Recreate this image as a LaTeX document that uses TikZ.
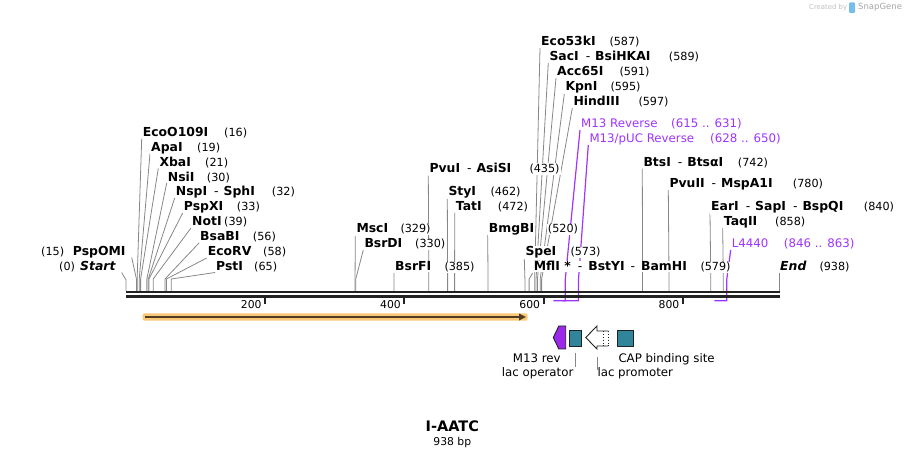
\documentclass[tikz,border=0pt]{standalone}
\usepackage{fontspec}
\setmainfont{DejaVu Sans}
\usetikzlibrary{calc,backgrounds,arrows.meta}

\definecolor{leadgray}{RGB}{135,135,135}
\definecolor{primer}{RGB}{158,52,255}
\definecolor{featteal}{RGB}{49,133,155}
\definecolor{revpurple}{RGB}{155,40,235}
\definecolor{bone}{RGB}{34,34,34}
\definecolor{orfback}{RGB}{250,200,120}
\definecolor{orfline}{RGB}{80,60,35}
\definecolor{logoblue}{RGB}{120,190,235}

\tikzset{
  enz/.style={anchor=base west, inner sep=1pt, fill=white, font=\fontsize{12.4}{14}\selectfont\bfseries},
  num/.style={anchor=base west, inner sep=1pt, fill=white, font=\fontsize{11.2}{13}\selectfont},
  prim/.style={anchor=base west, inner sep=1pt, fill=white, text=primer, font=\fontsize{11.8}{14}\selectfont},
  lead/.style={draw=leadgray, line width=0.8pt},
  plead/.style={draw=primer, line width=1.2pt},
  feat/.style={draw=bone, line width=0.9pt},
  flabel/.style={anchor=base west, inner sep=0pt, font=\fontsize{11.8}{14}\selectfont},
  ticklab/.style={anchor=base east, inner sep=0pt, font=\fontsize{10.8}{13}\selectfont},
}
\newcommand{\esep}{\hspace{7pt}{\mdseries -}\hspace{5pt}}

\begin{document}
\begin{tikzpicture}[x=1pt,y=-1pt]
  \useasboundingbox (0,0) rectangle (906,457);
  \def\bp{0.6962}

  % credit line
  \node[anchor=base west, inner sep=0, text=black!25, font=\fontsize{6.9}{8}\selectfont] (credit) at (809,10) {Created by};
  \fill[logoblue, rounded corners=1pt] (849,2.5) rectangle (855,13);
  \node[anchor=base west, inner sep=0, text=black!35, font=\fontsize{8.5}{10}\selectfont] (snapgene) at (858,10) {SnapGene};

  % enzymes, left group
  \node[enz] (ecoo) at (141.7,136.7) {EcoO109I};
  \node[num] (ecoo-n) at (223,136.7) {(16)};
  \node[enz] (apa) at (150,151.5) {ApaI};
  \node[num] (apa-n) at (196,151.5) {(19)};
  \node[enz] (xba) at (158.3,166.3) {XbaI};
  \node[num] (xba-n) at (204,166.3) {(21)};
  \node[enz] (nsi) at (166.7,181.1) {NsiI};
  \node[num] (nsi-n) at (205.7,181.1) {(30)};
  \node[enz] (nsp) at (174.7,196) {NspI\esep SphI};
  \node[num] (nsp-n) at (270.7,196) {(32)};
  \node[enz] (pspx) at (182.7,211) {PspXI};
  \node[num] (pspx-n) at (235.7,211) {(33)};
  \node[enz] (not) at (191,226) {NotI};
  \node[num] (not-n) at (223,226) {(39)};
  \node[enz] (bsab) at (199,241) {BsaBI};
  \node[num] (bsab-n) at (251.7,241) {(56)};
  \node[enz] (ecorv) at (206.7,256) {EcoRV};
  \node[num] (ecorv-n) at (262,256) {(58)};
  \node[enz] (pst) at (215,270.5) {PstI};
  \node[num] (pst-n) at (253,270.5) {(65)};
  \node[num] (pspomi-n) at (40,255.5) {(15)};
  \node[enz] (pspomi) at (71.7,255.5) {PspOMI};
  \node[num] (start-n) at (58,270.5) {(0)};
  \node[enz] (start) at (79,270.5) {\itshape Start};

  % enzymes, middle group
  \node[enz] (msc) at (355.3,233) {MscI};
  \node[num] (msc-n) at (399.3,233) {(329)};
  \node[enz] (bsrd) at (363.3,248) {BsrDI};
  \node[num] (bsrd-n) at (414,248) {(330)};
  \node[enz] (bsrf) at (394,271) {BsrFI};
  \node[num] (bsrf-n) at (443.3,271) {(385)};
  \node[enz] (pvu) at (428.3,172.7) {PvuI\esep AsiSI};
  \node[num] (pvu-n) at (528.3,172.7) {(435)};
  \node[enz] (sty) at (447.3,196) {StyI};
  \node[num] (sty-n) at (489.3,196) {(462)};
  \node[enz] (tat) at (454.7,211) {TatI};
  \node[num] (tat-n) at (496.7,211) {(472)};
  \node[enz] (bmgb) at (487.7,233) {BmgBI};
  \node[num] (bmgb-n) at (546.7,233) {(520)};
  \node[enz] (spe) at (524.3,256) {SpeI};
  \node[num] (spe-n) at (569.3,256) {(573)};
  \node[enz] (mfl) at (532.7,271) {MflI *\hspace{7pt}{\mdseries -}\hspace{6pt}BstYI\hspace{6pt}{\mdseries -}\hspace{6pt}BamHI};
  \node[num] (mfl-n) at (699.3,271) {(579)};

  % enzymes, top group
  \node[enz] (eco53) at (540,46) {Eco53kI};
  \node[num] (eco53-n) at (608.3,46) {(587)};
  \node[enz] (sac) at (548.3,61) {SacI\esep BsiHKAI};
  \node[num] (sac-n) at (667.7,61) {(589)};
  \node[enz] (acc) at (556,76) {Acc65I};
  \node[num] (acc-n) at (618.3,76) {(591)};
  \node[enz] (kpn) at (564.3,91) {KpnI};
  \node[num] (kpn-n) at (609.3,91) {(595)};
  \node[enz] (hind) at (572.3,106) {HindIII};
  \node[num] (hind-n) at (637.3,106) {(597)};

  % enzymes, right group
  \node[enz] (bts) at (642.3,166.7) {BtsI\esep BtsαI};
  \node[num] (bts-n) at (736.7,166.7) {(742)};
  \node[enz] (pvuii) at (668.3,188) {PvuII\esep MspA1I};
  \node[num] (pvuii-n) at (791.7,188) {(780)};
  \node[enz] (ear) at (710,211) {EarI\esep SapI\esep BspQI};
  \node[num] (ear-n) at (862.7,211) {(840)};
  \node[enz] (taq) at (722.7,226) {TaqII};
  \node[num] (taq-n) at (774,226) {(858)};
  \node[enz] (end) at (779,271) {\itshape End};
  \node[num] (end-n) at (818.3,271) {(938)};

  % primers
  \node[prim] (m13r) at (580,128) {M13 Reverse};
  \node[prim] (m13r-n) at (670,128) {(615 .. 631)};
  \node[prim] (m13puc) at (588.3,143) {M13/pUC Reverse};
  \node[prim] (m13puc-n) at (709,143) {(628 .. 650)};
  \node[prim] (l4440) at (730.7,248) {L4440};
  \node[prim] (l4440-n) at (782.7,248) {(846 .. 863)};

  \begin{scope}[on background layer]
    % leader lines
    \draw[lead] ($(ecoo.base west)+(0,2)$) -- ({126+16*\bp},279) -- ({126+16*\bp},291);
    \draw[lead] ($(apa.base west)+(0,2)$) -- ({126+19*\bp},279) -- ({126+19*\bp},291);
    \draw[lead] ($(xba.base west)+(0,2)$) -- ({126+21*\bp},279) -- ({126+21*\bp},291);
    \draw[lead] ($(nsi.base west)+(0,2)$) -- ({126+30*\bp},279) -- ({126+30*\bp},291);
    \draw[lead] ($(nsp.base west)+(0,2)$) -- ({126+32*\bp},279) -- ({126+32*\bp},291);
    \draw[lead] ($(pspx.base west)+(0,2)$) -- ({126+33*\bp},279) -- ({126+33*\bp},291);
    \draw[lead] ($(not.base west)+(0,2)$) -- ({126+39*\bp},279) -- ({126+39*\bp},291);
    \draw[lead] ($(bsab.base west)+(0,2)$) -- ({126+56*\bp},279) -- ({126+56*\bp},291);
    \draw[lead] ($(ecorv.base west)+(0,2)$) -- ({126+58*\bp},279) -- ({126+58*\bp},291);
    \draw[lead] ($(pst.base west)+(0,2)$) -- ({126+65*\bp},279) -- ({126+65*\bp},291);
    \draw[lead] ($(pspomi.base east)+(5,2)$) -- ({126+15*\bp},279) -- ({126+15*\bp},291);
    \draw[lead] ($(start.base east)+(5,2)$) -- (126,280) -- (126,291);
    \draw[lead] ($(msc.base west)+(0,3)$) -- ({126+329*\bp},279) -- ({126+329*\bp},291);
    \draw[lead] ($(bsrd.base west)+(0,2)$) -- ({126+330*\bp},279) -- ({126+330*\bp},291);
    \draw[lead] ($(bsrf.base west)+(0,2)$) -- ({126+385*\bp},279) -- ({126+385*\bp},291);
    \draw[lead] ($(pvu.base west)+(0,3)$) -- ({126+435*\bp},279) -- ({126+435*\bp},291);
    \draw[lead] ($(sty.base west)+(0,3)$) -- ({126+462*\bp},279) -- ({126+462*\bp},291);
    \draw[lead] ($(tat.base west)+(0,2)$) -- ({126+472*\bp},279) -- ({126+472*\bp},291);
    \draw[lead] ($(bmgb.base west)+(0,2)$) -- ({126+520*\bp},279) -- ({126+520*\bp},291);
    \draw[lead] ($(spe.base west)+(0,3)$) -- ({126+573*\bp},279) -- ({126+573*\bp},291);
    \draw[lead] ($(mfl.base west)+(0,2)$) -- ({126+579*\bp},279) -- ({126+579*\bp},291);
    \draw[lead] ($(eco53.base west)+(0,2)$) -- ({126+587*\bp},279) -- ({126+587*\bp},291);
    \draw[lead] ($(sac.base west)+(0,2)$) -- ({126+589*\bp},279) -- ({126+589*\bp},291);
    \draw[lead] ($(acc.base west)+(0,2)$) -- ({126+591*\bp},279) -- ({126+591*\bp},291);
    \draw[lead] ($(kpn.base west)+(0,3)$) -- ({126+595*\bp},279) -- ({126+595*\bp},291);
    \draw[lead] ($(hind.base west)+(0,2)$) -- ({126+597*\bp},279) -- ({126+597*\bp},291);
    \draw[lead] ($(bts.base west)+(0,2)$) -- ({126+742*\bp},279) -- ({126+742*\bp},291);
    \draw[lead] ($(pvuii.base west)+(0,2)$) -- ({126+780*\bp},279) -- ({126+780*\bp},291);
    \draw[lead] ($(ear.base west)+(0,2)$) -- ({126+840*\bp},279) -- ({126+840*\bp},291);
    \draw[lead] ($(taq.base west)+(0,2)$) -- ({126+858*\bp},279) -- ({126+858*\bp},291);
    \draw[lead] ($(end.base west)+(0,2)$) -- (779,291);
    % primer brackets
    \draw[plead] ($(m13r.base west)+(0,2)$) -- ({126+631*\bp},279) -- ({126+631*\bp},300.7) -- ({126+614*\bp},300.7);
    \draw[plead] ($(m13puc.base west)+(0,2)$) -- ({126+650*\bp},279) -- ({126+650*\bp},300.7) -- ({126+627*\bp},300.7);
    \draw[plead] ($(l4440.base west)+(0,2)$) -- ({126+863*\bp},279) -- ({126+863*\bp},300.7) -- ({126+845*\bp},300.7);
  \end{scope}

  % backbone
  \draw[bone, line width=2.4pt] (126,292.2) -- (779.6,292.2);
  \draw[bone, line width=2.6pt] (126,296.4) -- (779.6,296.4);

  % ruler
  \draw[bone, line width=2pt] ({126+200*\bp},297.5) -- ++(0,6.5);
  \draw[bone, line width=2pt] ({126+400*\bp},297.5) -- ++(0,6.5);
  \draw[bone, line width=2pt] ({126+600*\bp},297.5) -- ++(0,6.5);
  \draw[bone, line width=2pt] ({126+800*\bp},297.5) -- ++(0,6.5);
  \node[ticklab] (t200) at ({126+200*\bp-3.5},308.3) {200};
  \node[ticklab] (t400) at ({126+400*\bp-3.5},308.3) {400};
  \node[ticklab] (t600) at ({126+600*\bp-3.5},308.3) {600};
  \node[ticklab] (t800) at ({126+800*\bp-3.5},308.3) {800};

  % orf arrow
  \fill[orfback, rounded corners=2pt] (142.7,313.3) rectangle (527.5,320.7);
  \draw[orfline, line width=1.8pt, -{Triangle[length=7pt,width=6.5pt]}] (145,317) -- (526,317);

  % features
  \filldraw[feat, fill=revpurple] (553.3,337.5) -- (558.8,326) -- (565.7,326) -- (565.7,349) -- (558.8,349) -- cycle;
  \filldraw[feat, fill=featteal] (569.3,330.7) rectangle (581.7,346);
  \filldraw[feat, fill=white] (608.3,331) -- (597,331) -- (597,326) -- (585.7,337.5) -- (597,349) -- (597,346) -- (608.3,346);
  \draw[bone, line width=0.9pt, dotted] (608.3,331) -- (608.3,346);
  \draw[bone, line width=0.9pt, dotted] (603.5,331) -- (603.5,346);
  \filldraw[feat, fill=featteal] (617.3,330.7) rectangle (633.3,346);

  \coordinate (lacop-t) at (575.7,353);
  \coordinate (lacpro-t) at (597.3,357);
  \draw[lead] (lacop-t) -- ++(0,14);
  \draw[lead] (lacpro-t) -- ++(0,13);
  \node[flabel] (m13rev-l) at (512.7,362.5) {M13 rev};
  \node[flabel] (lacop-l) at (501.7,377) {lac operator};
  \node[flabel] (lacpro-l) at (597.3,377) {lac promoter};
  \node[flabel] (cap-l) at (618.3,362.5) {CAP binding site};

  % title
  \node[anchor=base, inner sep=0, font=\fontsize{14.5}{16}\selectfont\bfseries] (title) at (452.3,431.7) {I-AATC};
  \node[anchor=base, inner sep=0, font=\fontsize{10.8}{13}\selectfont] (length) at (452.3,445.7) {938 bp};
\end{tikzpicture}
\end{document}
